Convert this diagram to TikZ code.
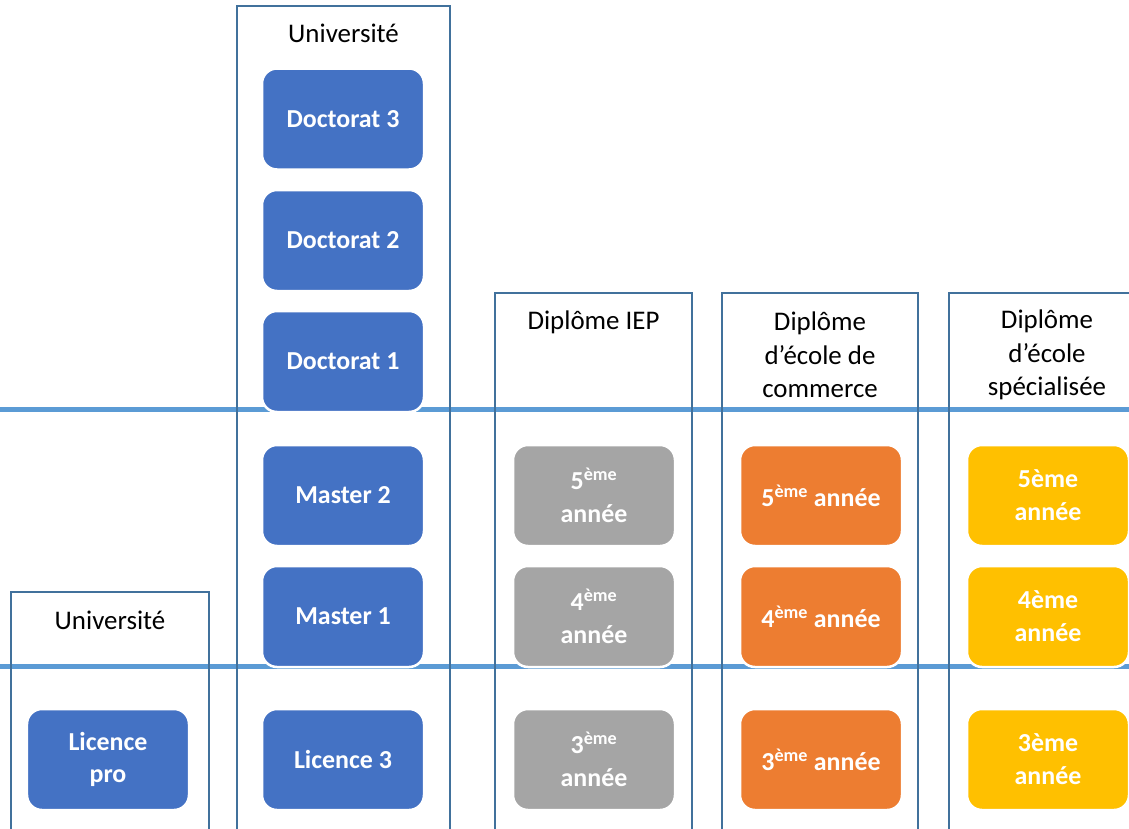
\documentclass[tikz,border=0pt]{standalone}
\usepackage{fontspec}
\setmainfont{Carlito}
\usetikzlibrary{positioning}
\definecolor{FrameBlue}{RGB}{65,113,156}
\definecolor{LineBlue}{RGB}{91,155,213}
\definecolor{BoxBlue}{RGB}{68,114,196}
\definecolor{BoxGrey}{RGB}{165,165,165}
\definecolor{BoxOrange}{RGB}{237,125,49}
\definecolor{BoxYellow}{RGB}{255,192,0}
\tikzset{
  yearbox/.style={draw=white, line width=2.5bp, rounded corners=15bp,
    minimum width=162bp, minimum height=101bp, inner sep=0pt,
    text=white, align=center, font=\fontsize{26}{33}\selectfont\bfseries},
  coltitle/.style={align=center, inner sep=0pt, font=\fontsize{27}{33.5}\selectfont}
}
\begin{document}
\begin{tikzpicture}[x=1bp,y=-1bp]
    \useasboundingbox (0,0) rectangle (1129,829);
    \clip (0,0) rectangle (1129,829);
    \coordinate (LineOneMin) at (0,409.5);
    \coordinate (LineOneMax) at (1129,409.5);
    \coordinate (LineTwoMin) at (0,666.5);
    \coordinate (LineTwoMax) at (1129,666.5);
    \draw [line width=5bp, LineBlue] (LineOneMin) -- (LineOneMax);% Year lines
    \draw [line width=5bp, LineBlue] (LineTwoMin) -- (LineTwoMax);
    \foreach \l/\r/\t in {11/209/592, 237/450/6, 495/692/293, 722/918/293, 949/1146/293}{% Column frames, open at the bottom
        \draw [line width=2bp, FrameBlue] (\l,840) -- (\l,\t) -- (\r,\t) -- (\r,840);
    }
    \node [coltitle] (TitleLicPro) at (110,620) {Université};
    \node [coltitle] (TitleUniv)   at (343.5,33) {Université};
    \node [coltitle] (TitleIEP)    at (593.5,322) {Diplôme IEP};
    \node [coltitle] (TitleComm)   at (820,355) {Diplôme\\d’école de\\commerce};
    \node [coltitle] (TitleSpec)   at (1047,355) {Diplôme\\d’école\\spécialisée};
    \node [yearbox, fill=BoxBlue] (LicencePro) at (108,759.5) {Licence\\pro};
    \foreach \name/\y/\txt in {Doctorat3/119/Doctorat 3, Doctorat2/240.5/Doctorat 2,
        Doctorat1/361.5/Doctorat 1, Master2/495.5/Master 2, Master1/616.5/Master 1,
        Licence3/759.5/Licence 3}{
        \node [yearbox, fill=BoxBlue] (\name) at (343,\y) {\txt};
    }
    \foreach \n/\y in {5/495.5, 4/616.5, 3/759.5}{% Three school columns
        \node [yearbox, fill=BoxGrey]   (IEP\n)  at (594,\y)  {\n\textsuperscript{ème}\\année};
        \node [yearbox, fill=BoxOrange] (Comm\n) at (821,\y)  {\n\textsuperscript{ème} année};
        \node [yearbox, fill=BoxYellow] (Spec\n) at (1048,\y) {\n ème\\année};
    }
\end{tikzpicture}
\end{document}
